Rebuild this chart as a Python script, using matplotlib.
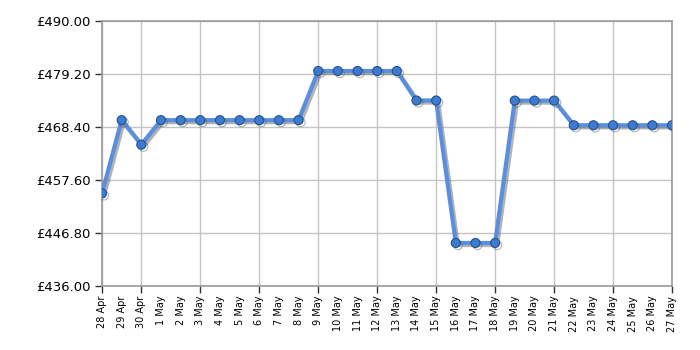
import matplotlib
matplotlib.use('Agg')
import matplotlib.pyplot as plt
import matplotlib.patheffects as pe
import numpy as np

# price history (GBP)
dates = ['28 Apr', '29 Apr', '30 Apr', '1 May', '2 May', '3 May', '4 May', '5 May',
         '6 May', '7 May', '8 May', '9 May', '10 May', '11 May', '12 May', '13 May',
         '14 May', '15 May', '16 May', '17 May', '18 May', '19 May', '20 May', '21 May',
         '22 May', '23 May', '24 May', '25 May', '26 May', '27 May']
prices = [454.87, 469.79, 464.79, 469.79, 469.79, 469.79, 469.79, 469.79,
          469.79, 469.79, 469.79, 479.81, 479.81, 479.81, 479.81, 479.81,
          473.80, 473.80, 444.76, 444.76, 444.76, 473.78, 473.78, 473.78,
          468.75, 468.75, 468.75, 468.75, 468.75, 468.75]
y_ticks = [436.00, 446.80, 457.60, 468.40, 479.20, 490.00]

fig = plt.figure(figsize=(7, 3.5), dpi=100, facecolor='w')
ax = fig.add_axes([0.1457, 0.183, 0.8143, 0.757])

x = np.arange(len(dates))
shadow = [pe.SimpleLineShadow(offset=(1.5, -1.5), shadow_color='#666666', alpha=0.5), pe.Normal()]
ax.plot(x, prices, color='#5b8fde', linewidth=3, zorder=3, path_effects=shadow)
ax.plot(x, prices, linestyle='none', marker='o', markersize=6.5,
        markerfacecolor='#3d7bd0', markeredgecolor='#23538f', markeredgewidth=0.8,
        zorder=4, path_effects=shadow)

ax.set_xlim(0, len(dates) - 1)
ax.set_ylim(436, 490)

# gridlines / tick marks every 3 days, labels every day
ax.xaxis.remove_overlapping_locs = False
ax.set_xticks([0] + list(range(2, len(dates), 3)))
ax.set_xticklabels([])
ax.set_xticks(x, minor=True)
ax.set_xticklabels(dates, minor=True, rotation=90, fontsize=7)
ax.tick_params(axis='x', which='minor', length=0, pad=7)
ax.tick_params(axis='x', which='major', length=5, width=1, color='#333333')

ax.set_yticks(y_ticks)
ax.set_yticklabels(['£%.2f' % v for v in y_ticks], fontsize=9.5)
ax.tick_params(axis='y', length=5, width=1, color='#333333', pad=3)

ax.grid(True, which='major', color='#c4c4c4', linewidth=1)
ax.set_axisbelow(True)
for s in ax.spines.values():
    s.set_color('#999999')
    s.set_linewidth(1.2)

plt.savefig('out.png', dpi=100)
